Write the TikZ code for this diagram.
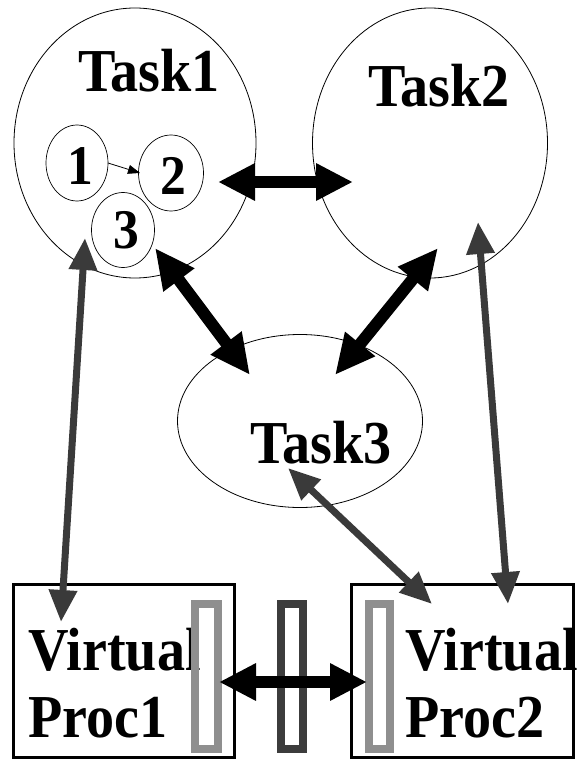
\documentclass[tikz,border=0pt]{standalone}
\usepackage{fontspec}
\setmainfont{Liberation Serif}
\newfontfamily\labelfont[FakeStretch=0.92]{Liberation Serif}
\usetikzlibrary{arrows.meta,shapes.geometric}

\definecolor{linkgray}{HTML}{3A3A3A}
\definecolor{bufdark}{HTML}{3C3C3C}
\definecolor{buflight}{HTML}{8F8F8F}

\tikzset{
  task/.style={ellipse, draw=black, line width=0.8pt, inner sep=0pt},
  sub/.style={ellipse, draw=black, line width=0.7pt, inner sep=0pt},
  label/.style={inner sep=0pt, anchor=base west,
    font=\labelfont\bfseries\fontsize{61}{70}\selectfont},
  digit/.style={inner sep=0pt, anchor=base,
    font=\labelfont\bfseries\fontsize{56}{62}\selectfont},
  procbox/.style={rectangle, draw=black, line width=3pt, inner sep=0pt},
  buffer/.style={rectangle, line width=8pt, inner sep=0pt,
    minimum height=145pt},
  bigarrow/.style={line width=12pt, draw=black,
    {Triangle[length=37pt,width=35pt]}-{Triangle[length=37pt,width=35pt]}},
  diagarrow/.style={line width=12pt, draw=black,
    {Triangle[length=40pt,width=36pt]}-{Triangle[length=40pt,width=36pt]}},
  maparrow/.style={line width=7pt, draw=linkgray,
    {Triangle[length=32pt,width=27pt]}-{Triangle[length=32pt,width=27pt]}},
  smallarrow/.style={line width=0.8pt, draw=black,
    -{Triangle[length=12pt,width=9pt]}}
}

\begin{document}
\begin{tikzpicture}[x=1pt, y=-1pt]
\useasboundingbox (0,0) rectangle (580,759);

% task ellipses
\node (t1) [task, minimum width=242pt, minimum height=270pt] at (135,143) {};
\node (t2) [task, minimum width=235pt, minimum height=270pt] at (430,143) {};
\node (t3) [task, minimum width=245pt, minimum height=173pt] at (300,421) {};

\node (t1lab) [label] at (78,92) {Task1};
\node (t2lab) [label] at (368,107) {Task2};
\node (t3lab) [label] at (250,463) {Task3};

% subtasks inside Task1
\node (s1) [sub, minimum width=62pt, minimum height=76pt] at (77,163) {};
\node (s2) [sub, minimum width=65pt, minimum height=76pt] at (171,173) {};
\node (s3) [sub, minimum width=63pt, minimum height=75pt] at (123,230) {};
\node (s1lab) [digit] at (80,185) {1};
\node (s2lab) [digit] at (173,195) {2};
\node (s3lab) [digit] at (126,248) {3};

\coordinate (s1out) at (108,163);
\coordinate (s2in) at (140,173);
\draw[smallarrow] (s1out) -- (s2in);

% virtual processors
\node (vp1) [procbox, minimum width=221pt, minimum height=173pt] at (123.5,670.5) {};
\node (vp2) [procbox, minimum width=222pt, minimum height=173pt] at (462,670.5) {};

\node (vp1a) [label] at (28,670) {Virtual};
\node (vp1b) [label] at (28,737) {Proc1};
\node (vp2a) [label] at (405,670) {Virtual};
\node (vp2b) [label] at (405,737) {Proc2};

% message buffers
\node (buf1) [buffer, draw=buflight, minimum width=23pt] at (206.5,676.5) {};
\node (bufm) [buffer, draw=bufdark, minimum width=22.5pt] at (292,676.5) {};
\node (buf2) [buffer, draw=buflight, minimum width=21.5pt] at (379.5,676.5) {};

% arrow end points
\coordinate (t1r) at (218,182);
\coordinate (t2l) at (353,182);
\coordinate (t1b) at (155,248);
\coordinate (t3l) at (250,375);
\coordinate (t2b) at (438,248);
\coordinate (t3r) at (335,375);
\coordinate (t1m) at (85,238);
\coordinate (vp1t) at (61,622);
\coordinate (t2m) at (478,222);
\coordinate (vp2t) at (508,604);
\coordinate (t3m) at (288,468);
\coordinate (vp2l) at (432,604);
\coordinate (buf1e) at (219,682);
\coordinate (buf2w) at (367,682);

% task communication
\draw[bigarrow] (t1r) -- (t2l);
\draw[diagarrow] (t1b) -- (t3l);
\draw[diagarrow] (t2b) -- (t3r);

% task to processor mapping
\draw[maparrow] (t1m) -- (vp1t);
\draw[maparrow] (t2m) -- (vp2t);
\draw[maparrow] (t3m) -- (vp2l);

% processor communication
\draw[bigarrow] (buf1e) -- (buf2w);
\end{tikzpicture}
\end{document}
